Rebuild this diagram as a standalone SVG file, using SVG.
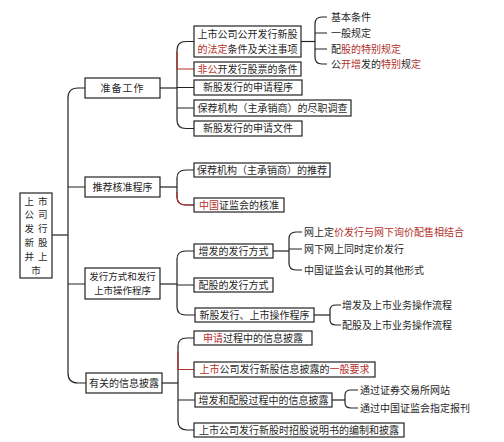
<svg xmlns="http://www.w3.org/2000/svg" width="504" height="442" viewBox="0 0 504 442">
<style>
text{font-family:"Noto Sans CJK SC","Noto Sans CJK JP",sans-serif;font-size:10px;fill:#1f1f1f}
.m{text-anchor:middle}
.r{fill:#b3312b}
.rt{font-size:9.5px}
rect{fill:#fff;stroke:#222;stroke-width:1.2}
.c path{fill:none;stroke:#222;stroke-width:1.2}
.c path.rd{stroke:#b3312b}
</style>
<rect width="504" height="442" style="fill:#fff;stroke:none"/>
<g class="c" id="connectors">
<path d="M52,235 H68"/>
<path d="M85,88 H78 Q68,88 68,98 V373 Q68,383 78,383 H86"/>
<path d="M68,187 H85 M68,284 H85"/>
<path d="M160,88 H177"/>
<path d="M194,41.5 H186 Q177,41.5 177,50 V120 Q177,128.5 186,128.5 H194"/>
<path class="rd" d="M177,52 V69 H194"/>
<path d="M177,87.5 H194 M177,108 H194"/>
<path d="M301,41.5 H315"/>
<path d="M327,17 H322 Q315,17 315,24 V57 Q315,64 322,64 H327 M315,33 H327 M315,49 H327"/>
<path d="M160,187 H177"/>
<path d="M194,170 H186 Q177,170 177,178 V197 Q177,205 186,205 H194"/>
<path class="rd" d="M177,192 V197 Q177,205 186,205 H194"/>
<path d="M160,284 H177"/>
<path d="M194,251 H186 Q177,251 177,259 V307 Q177,315 186,315 H195 M177,285 H194"/>
<path d="M273,251 H289"/>
<path d="M302,232 H296 Q289,232 289,239 V263 Q289,270 296,270 H302 M289,249 H302"/>
<path d="M314,315 H330"/>
<path d="M341,305 H336 Q330,305 330,310 V320 Q330,325 336,325 H341"/>
<path d="M162,383 H178"/>
<path d="M194,338 H187 Q178,338 178,346 V421 Q178,430 187,430 H194 M178,400 H195"/>
<path class="rd" d="M178,352 V369.5 H194"/>
<path d="M332,400 H345"/>
<path d="M358,390 H351 Q345,390 345,395 V403 Q345,408 351,408 H358"/>
</g>
<g id="root">
<rect x="20" y="193" width="32" height="85"/>
<text x="38" y="204.6" class="m rt" letter-spacing="4">上市</text>
<text x="38" y="218.4" class="m rt" letter-spacing="4">公司</text>
<text x="38" y="232.2" class="m rt" letter-spacing="4">发行</text>
<text x="38" y="246" class="m rt" letter-spacing="4">新股</text>
<text x="38" y="259.8" class="m rt" letter-spacing="4">并上</text>
<text x="36" y="273.6" class="m rt">市</text>
</g>
<g id="n-prep">
<rect x="85" y="78" width="75" height="20"/>
<text x="122.5" y="91.8" class="m" letter-spacing="1">准备工作</text>
</g>
<g id="n-recommend">
<rect x="85" y="177" width="75" height="20"/>
<text x="122.5" y="190.8" class="m">推荐核准程序</text>
</g>
<g id="n-issue">
<rect x="85" y="268" width="75" height="31"/>
<text x="122.5" y="280.1" class="m rt">发行方式和发行</text>
<text x="122.5" y="294.1" class="m rt">上市操作程序</text>
</g>
<g id="n-disclose">
<rect x="86" y="373" width="76" height="20"/>
<text x="124" y="386.8" class="m">有关的信息披露</text>
</g>
<g id="c1">
<rect x="194" y="26" width="107" height="31"/>
<text x="247.5" y="38" class="m">上市公司公开发行新股</text>
<text x="247.5" y="52.7" class="m"><tspan class="r">的法定</tspan>条件及关注事项</text>
</g>
<g id="c2">
<rect x="194" y="62" width="107" height="14"/>
<text x="247.5" y="72.8" class="m"><tspan class="r">非公</tspan>开发行股票的条件</text>
</g>
<g id="c3">
<rect x="194" y="80" width="108" height="15"/>
<text x="248" y="91.3" class="m">新股发行的申请程序</text>
</g>
<g id="c4">
<rect x="194" y="100" width="157" height="16"/>
<text x="272.5" y="111.8" class="m">保荐机构（主承销商）的尽职调查</text>
</g>
<g id="c5">
<rect x="194" y="121" width="108" height="15"/>
<text x="248" y="132.3" class="m">新股发行的申请文件</text>
</g>
<g id="l1"><text x="331" y="20.8">基本条件</text></g>
<g id="l2"><text x="331" y="36.8">一般规定</text></g>
<g id="l3"><text x="331" y="52.8">配<tspan class="r">股的特别规定</tspan></text></g>
<g id="l4"><text x="331" y="67.8">公<tspan class="r">开增</tspan>发的<tspan class="r">特别</tspan>规<tspan class="r">定</tspan></text></g>
<g id="d1">
<rect x="194" y="163" width="136" height="14"/>
<text x="262" y="173.8" class="m">保荐机构（主承销商）的推荐</text>
</g>
<g id="d2">
<rect x="194" y="198" width="90" height="14"/>
<text x="239" y="208.8" class="m"><tspan class="r">中国</tspan>证监会的核准</text>
</g>
<g id="e1">
<rect x="194" y="244" width="79" height="14"/>
<text x="233.5" y="254.8" class="m">增发的发行方式</text>
</g>
<g id="e2">
<rect x="194" y="278" width="79" height="14"/>
<text x="233.5" y="288.8" class="m">配股的发行方式</text>
</g>
<g id="e3">
<rect x="195" y="308" width="119" height="14"/>
<text x="254.5" y="318.8" class="m">新股发行、上市操作程序</text>
</g>
<g id="m1"><text x="304" y="235.8">网上定<tspan class="r">价发行与网下询价配售相结合</tspan></text></g>
<g id="m2"><text x="304" y="252.8">网下网上同时定价发行</text></g>
<g id="m3"><text x="304" y="273.8">中国证监会认可的其他形式</text></g>
<g id="k1"><text x="342" y="308.8">增发及上市业务操作流程</text></g>
<g id="k2"><text x="342" y="328.8">配股及上市业务操作流程</text></g>
<g id="f1">
<rect x="194" y="331" width="118" height="14"/>
<text x="253" y="341.8" class="m"><tspan class="r">申请</tspan>过程中的信息披露</text>
</g>
<g id="f2">
<rect x="194" y="362" width="181" height="15"/>
<text x="284.5" y="373.3" class="m"><tspan class="r">上市</tspan>公司发行新股信息披露的<tspan class="r">一般要求</tspan></text>
</g>
<g id="f3">
<rect x="195" y="393" width="137" height="14"/>
<text x="263.5" y="403.8" class="m">增发和配股过程中的信息披露</text>
</g>
<g id="f4">
<rect x="194" y="423" width="210" height="14"/>
<text x="299" y="433.8" class="m">上市公司发行新股时招股说明书的编制和披露</text>
</g>
<g id="j1"><text x="360" y="393.8">通过证券交易所网站</text></g>
<g id="j2"><text x="360" y="411.8">通过中国证监会指定报刊</text></g>
</svg>
